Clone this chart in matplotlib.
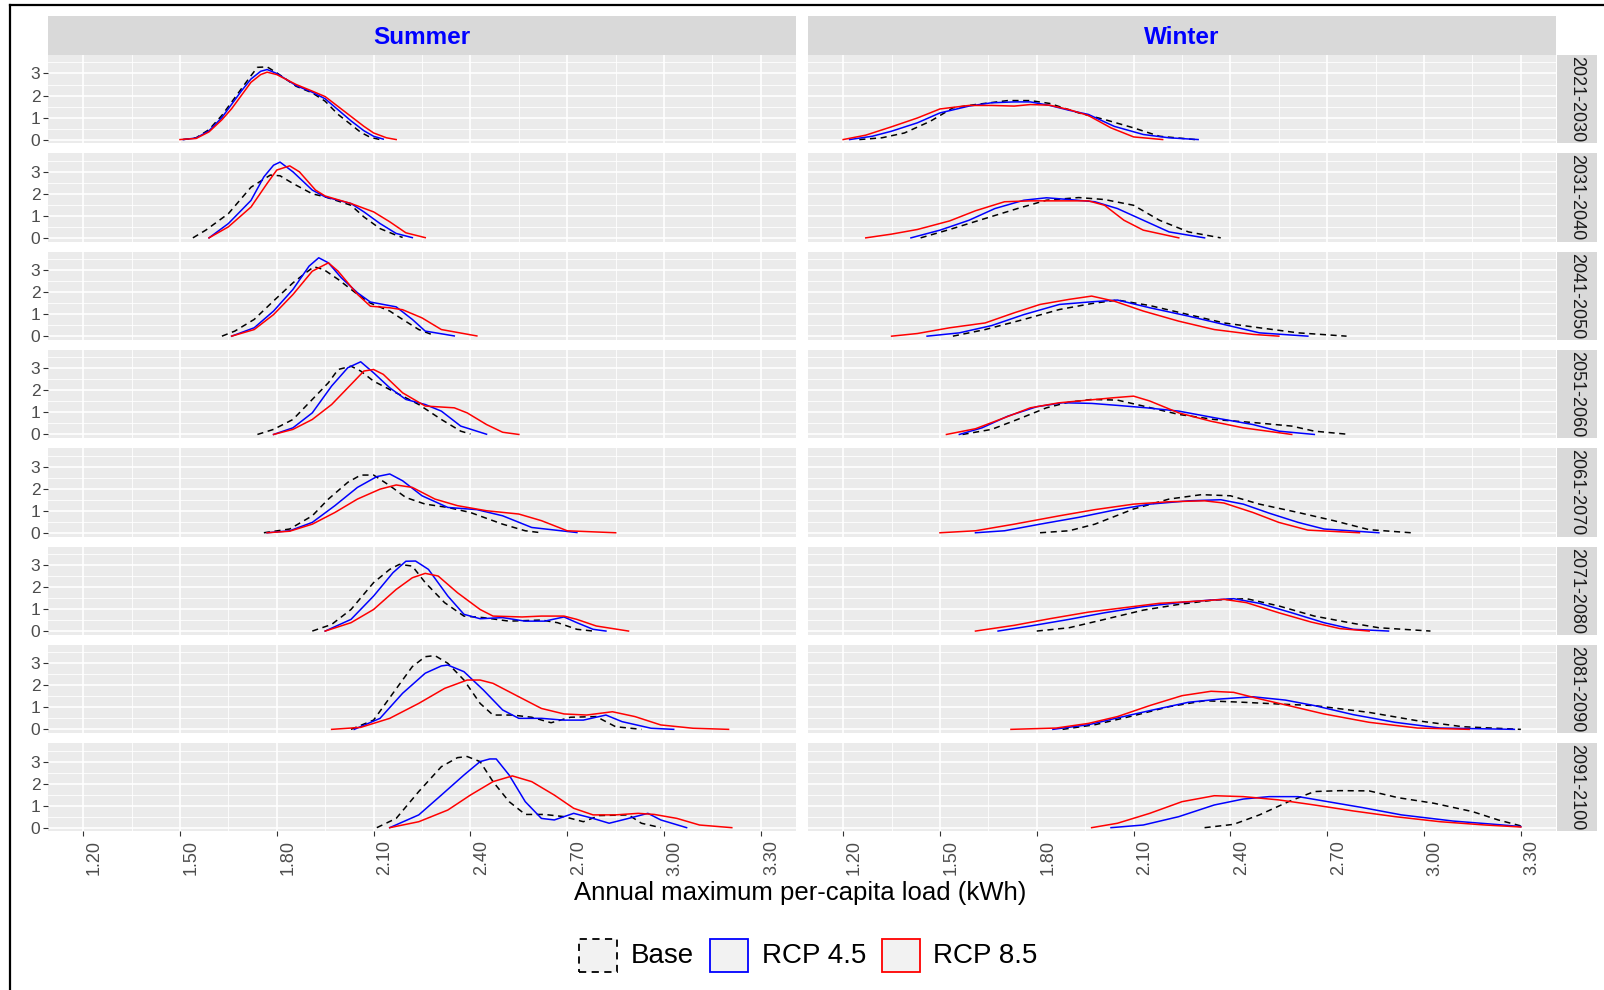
import matplotlib
matplotlib.use("Agg")
import matplotlib.pyplot as plt
import matplotlib.transforms as mtransforms
from matplotlib.patches import Rectangle
from matplotlib.lines import Line2D

plt.rcParams['font.family'] = ['Liberation Sans', 'DejaVu Sans']

# datos (x = carga, y = densidad)
seasons = ["Summer", "Winter"]
decades = ["2021-2030", "2031-2040", "2041-2050", "2051-2060",
           "2061-2070", "2071-2080", "2081-2090", "2091-2100"]
scenarios = ["Base", "RCP 4.5", "RCP 8.5"]

summer_base = [
    ([1.51, 1.55, 1.59, 1.63, 1.66, 1.69, 1.72, 1.74, 1.77, 1.80, 1.86, 1.91, 1.95, 1.99, 2.03, 2.06, 2.09, 2.12],
     [0, 0.08, 0.45, 1.1, 1.7, 2.3, 2.9, 3.28, 3.3, 3.03, 2.42, 2.12, 1.74, 1.14, 0.68, 0.33, 0.1, 0]),
    ([1.54, 1.58, 1.65, 1.72, 1.78, 1.81, 1.85, 1.91, 1.95, 2.03, 2.07, 2.12, 2.17, 2.19],
     [0, 0.35, 1.1, 2.3, 2.85, 2.82, 2.47, 2.0, 1.86, 1.48, 0.95, 0.42, 0.12, 0.02]),
    ([1.63, 1.67, 1.73, 1.79, 1.85, 1.89, 1.915, 1.945, 1.99, 2.05, 2.09, 2.15, 2.19, 2.24, 2.29],
     [0, 0.23, 0.76, 1.6, 2.42, 2.88, 3.15, 3.03, 2.58, 1.9, 1.5, 1.14, 0.76, 0.3, 0.02]),
    ([1.74, 1.79, 1.85, 1.91, 1.96, 1.99, 2.03, 2.06, 2.10, 2.17, 2.24, 2.31, 2.37, 2.40],
     [0, 0.23, 0.68, 1.59, 2.35, 2.95, 3.1, 2.88, 2.42, 1.89, 1.36, 0.68, 0.15, 0.02]),
    ([1.76, 1.84, 1.91, 1.96, 2.02, 2.06, 2.10, 2.15, 2.20, 2.26, 2.33, 2.40, 2.50, 2.57, 2.62],
     [0, 0.17, 0.77, 1.53, 2.29, 2.62, 2.62, 2.14, 1.6, 1.3, 1.15, 0.92, 0.39, 0.09, 0]),
    ([1.91, 1.97, 2.03, 2.10, 2.15, 2.18, 2.22, 2.26, 2.32, 2.38, 2.44, 2.52, 2.62, 2.67, 2.73, 2.78],
     [0, 0.3, 0.98, 2.2, 2.8, 3.03, 2.95, 2.2, 1.29, 0.68, 0.61, 0.45, 0.5, 0.38, 0.08, 0]),
    ([2.03, 2.10, 2.16, 2.22, 2.26, 2.29, 2.33, 2.38, 2.43, 2.47, 2.53, 2.59, 2.65, 2.71, 2.79, 2.85, 2.93],
     [0, 0.42, 1.64, 2.85, 3.3, 3.35, 3.0, 2.24, 1.18, 0.65, 0.65, 0.55, 0.3, 0.55, 0.58, 0.12, 0]),
    ([2.11, 2.17, 2.24, 2.31, 2.36, 2.39, 2.43, 2.47, 2.52, 2.57, 2.63, 2.69, 2.75, 2.80, 2.89, 2.93, 2.99],
     [0, 0.42, 1.64, 2.77, 3.18, 3.23, 3.0, 2.09, 1.18, 0.6, 0.6, 0.5, 0.27, 0.55, 0.58, 0.2, 0]),
]

summer_rcp45 = [
    ([1.51, 1.55, 1.59, 1.63, 1.66, 1.69, 1.72, 1.75, 1.77, 1.80, 1.86, 1.91, 1.95, 1.99, 2.03, 2.07, 2.10, 2.13],
     [0, 0.07, 0.4, 1.0, 1.6, 2.2, 2.75, 3.1, 3.18, 3.0, 2.45, 2.15, 1.85, 1.35, 0.85, 0.4, 0.15, 0.02]),
    ([1.59, 1.65, 1.72, 1.76, 1.79, 1.81, 1.85, 1.91, 1.95, 2.03, 2.07, 2.12, 2.17, 2.22],
     [0, 0.65, 1.7, 2.77, 3.3, 3.44, 3.0, 2.17, 1.86, 1.56, 1.18, 0.65, 0.2, 0.01]),
    ([1.66, 1.73, 1.79, 1.85, 1.90, 1.93, 1.96, 2.00, 2.05, 2.09, 2.17, 2.22, 2.26, 2.35],
     [0, 0.38, 1.14, 2.12, 3.18, 3.56, 3.33, 2.65, 1.97, 1.55, 1.33, 0.76, 0.23, 0.01]),
    ([1.79, 1.85, 1.91, 1.97, 2.02, 2.06, 2.10, 2.15, 2.20, 2.26, 2.31, 2.37, 2.45],
     [0, 0.3, 0.98, 2.2, 3.03, 3.3, 2.8, 2.12, 1.59, 1.36, 1.06, 0.38, 0.01]),
    ([1.77, 1.84, 1.91, 1.98, 2.05, 2.11, 2.15, 2.19, 2.25, 2.33, 2.42, 2.50, 2.59, 2.73],
     [0, 0.09, 0.47, 1.23, 2.06, 2.55, 2.67, 2.36, 1.68, 1.15, 1.05, 0.77, 0.24, 0.01]),
    ([1.95, 2.03, 2.10, 2.16, 2.20, 2.23, 2.27, 2.33, 2.38, 2.43, 2.50, 2.57, 2.63, 2.69, 2.73, 2.78, 2.82],
     [0, 0.53, 1.59, 2.65, 3.17, 3.18, 2.8, 1.59, 0.76, 0.56, 0.61, 0.45, 0.45, 0.64, 0.38, 0.08, 0]),
    ([2.04, 2.12, 2.19, 2.26, 2.31, 2.33, 2.38, 2.44, 2.50, 2.55, 2.62, 2.69, 2.75, 2.82, 2.87, 2.96, 3.03],
     [0, 0.5, 1.64, 2.55, 2.88, 2.92, 2.62, 1.79, 0.88, 0.5, 0.5, 0.42, 0.42, 0.65, 0.35, 0.05, 0]),
    ([2.15, 2.24, 2.31, 2.38, 2.43, 2.46, 2.48, 2.52, 2.57, 2.62, 2.66, 2.72, 2.78, 2.83, 2.89, 2.95, 2.99, 3.07],
     [0, 0.58, 1.48, 2.39, 3.0, 3.12, 3.12, 2.39, 1.18, 0.42, 0.35, 0.65, 0.42, 0.2, 0.42, 0.65, 0.35, 0]),
]

summer_rcp85 = [
    ([1.50, 1.55, 1.59, 1.63, 1.66, 1.69, 1.72, 1.75, 1.77, 1.80, 1.86, 1.91, 1.95, 1.99, 2.03, 2.07, 2.10, 2.14, 2.17],
     [0, 0.05, 0.35, 0.9, 1.4, 2.0, 2.6, 2.95, 3.06, 2.95, 2.5, 2.2, 1.95, 1.5, 1.05, 0.6, 0.3, 0.08, 0]),
    ([1.59, 1.65, 1.72, 1.77, 1.80, 1.84, 1.87, 1.92, 1.95, 2.03, 2.10, 2.15, 2.20, 2.26],
     [0, 0.5, 1.4, 2.47, 3.08, 3.27, 3.0, 2.17, 1.9, 1.56, 1.18, 0.73, 0.23, 0.01]),
    ([1.66, 1.73, 1.79, 1.85, 1.91, 1.96, 1.99, 2.05, 2.09, 2.15, 2.19, 2.25, 2.31, 2.42],
     [0, 0.3, 0.98, 1.89, 2.95, 3.33, 2.95, 1.9, 1.36, 1.29, 1.2, 0.83, 0.3, 0.01]),
    ([1.79, 1.85, 1.91, 1.97, 2.03, 2.07, 2.10, 2.13, 2.19, 2.26, 2.35, 2.39, 2.45, 2.50, 2.55],
     [0, 0.23, 0.68, 1.36, 2.27, 2.88, 2.95, 2.73, 1.89, 1.29, 1.21, 0.98, 0.45, 0.1, 0]),
    ([1.77, 1.84, 1.91, 1.98, 2.05, 2.12, 2.17, 2.22, 2.29, 2.36, 2.45, 2.55, 2.62, 2.70, 2.85],
     [0, 0.07, 0.39, 0.92, 1.53, 1.98, 2.17, 2.06, 1.53, 1.23, 1.0, 0.85, 0.55, 0.09, 0]),
    ([1.95, 2.03, 2.10, 2.17, 2.22, 2.26, 2.30, 2.36, 2.43, 2.47, 2.56, 2.62, 2.69, 2.73, 2.79, 2.89],
     [0, 0.38, 0.98, 1.89, 2.42, 2.62, 2.5, 1.74, 0.98, 0.68, 0.64, 0.68, 0.68, 0.53, 0.23, 0]),
    ([1.97, 2.06, 2.15, 2.24, 2.32, 2.39, 2.43, 2.47, 2.55, 2.62, 2.69, 2.76, 2.84, 2.91, 2.99, 3.09, 3.20],
     [0, 0.09, 0.5, 1.18, 1.86, 2.24, 2.24, 2.09, 1.48, 0.95, 0.7, 0.65, 0.8, 0.58, 0.2, 0.05, 0]),
    ([2.15, 2.24, 2.33, 2.40, 2.47, 2.53, 2.59, 2.66, 2.72, 2.78, 2.85, 2.92, 2.97, 3.04, 3.11, 3.21],
     [0, 0.27, 0.8, 1.48, 2.09, 2.35, 2.09, 1.48, 0.88, 0.58, 0.58, 0.65, 0.6, 0.42, 0.12, 0]),
]

winter_base = [
    ([1.25, 1.32, 1.39, 1.47, 1.54, 1.61, 1.71, 1.78, 1.84, 1.93, 2.01, 2.10, 2.18, 2.29],
     [0, 0.08, 0.3, 0.83, 1.44, 1.59, 1.77, 1.77, 1.64, 1.21, 0.91, 0.53, 0.15, 0]),
    ([1.44, 1.53, 1.64, 1.74, 1.83, 1.93, 2.01, 2.10, 2.18, 2.27, 2.37],
     [0, 0.38, 0.88, 1.33, 1.71, 1.83, 1.74, 1.48, 0.8, 0.27, 0]),
    ([1.54, 1.64, 1.76, 1.87, 1.97, 2.05, 2.15, 2.27, 2.38, 2.49, 2.61, 2.76],
     [0, 0.3, 0.76, 1.21, 1.48, 1.64, 1.39, 0.98, 0.6, 0.38, 0.15, 0]),
    ([1.57, 1.66, 1.74, 1.83, 1.90, 1.97, 2.05, 2.13, 2.24, 2.35, 2.48, 2.59, 2.66, 2.77],
     [0, 0.23, 0.68, 1.21, 1.47, 1.59, 1.56, 1.29, 0.91, 0.68, 0.53, 0.38, 0.15, 0]),
    ([1.81, 1.90, 1.98, 2.10, 2.21, 2.31, 2.40, 2.49, 2.61, 2.72, 2.83, 2.96],
     [0, 0.09, 0.39, 1.08, 1.53, 1.73, 1.68, 1.3, 0.92, 0.55, 0.14, 0]),
    ([1.80, 1.90, 2.01, 2.13, 2.24, 2.35, 2.45, 2.55, 2.66, 2.78, 2.86, 3.02],
     [0, 0.15, 0.53, 0.95, 1.21, 1.41, 1.47, 1.14, 0.68, 0.35, 0.15, 0]),
    ([1.88, 1.98, 2.10, 2.21, 2.32, 2.44, 2.55, 2.66, 2.83, 2.98, 3.12, 3.30],
     [0, 0.21, 0.62, 1.03, 1.3, 1.23, 1.15, 1.08, 0.77, 0.39, 0.12, 0]),
    ([2.32, 2.41, 2.49, 2.58, 2.66, 2.74, 2.83, 2.92, 3.03, 3.15, 3.23, 3.30],
     [0, 0.15, 0.58, 1.18, 1.64, 1.68, 1.67, 1.36, 1.11, 0.73, 0.35, 0.08]),
]

winter_rcp45 = [
    ([1.22, 1.29, 1.35, 1.43, 1.50, 1.59, 1.66, 1.73, 1.78, 1.84, 1.90, 1.96, 2.04, 2.13, 2.21, 2.30],
     [0, 0.15, 0.38, 0.76, 1.21, 1.52, 1.67, 1.71, 1.71, 1.55, 1.33, 1.14, 0.6, 0.23, 0.08, 0]),
    ([1.41, 1.50, 1.59, 1.67, 1.76, 1.83, 1.90, 1.98, 2.05, 2.13, 2.21, 2.32],
     [0, 0.35, 0.8, 1.33, 1.71, 1.82, 1.74, 1.64, 1.33, 0.8, 0.27, 0]),
    ([1.46, 1.56, 1.66, 1.76, 1.87, 1.97, 2.05, 2.15, 2.27, 2.38, 2.49, 2.64],
     [0, 0.15, 0.48, 0.98, 1.44, 1.56, 1.64, 1.29, 0.91, 0.53, 0.15, 0]),
    ([1.56, 1.63, 1.71, 1.80, 1.88, 1.97, 2.05, 2.14, 2.24, 2.35, 2.47, 2.55, 2.66],
     [0, 0.3, 0.83, 1.26, 1.44, 1.41, 1.32, 1.21, 1.06, 0.76, 0.45, 0.15, 0]),
    ([1.61, 1.70, 1.81, 1.93, 2.04, 2.15, 2.27, 2.37, 2.44, 2.52, 2.61, 2.69, 2.86],
     [0, 0.09, 0.39, 0.7, 1.03, 1.3, 1.45, 1.5, 1.3, 0.89, 0.47, 0.17, 0]),
    ([1.68, 1.78, 1.90, 2.01, 2.13, 2.24, 2.34, 2.41, 2.49, 2.59, 2.69, 2.78, 2.89],
     [0, 0.23, 0.53, 0.83, 1.11, 1.29, 1.41, 1.47, 1.26, 0.83, 0.38, 0.08, 0]),
    ([1.85, 1.96, 2.05, 2.15, 2.27, 2.37, 2.47, 2.57, 2.66, 2.78, 2.91, 3.05, 3.28],
     [0, 0.21, 0.52, 0.85, 1.23, 1.38, 1.48, 1.33, 1.08, 0.67, 0.32, 0.06, 0]),
    ([2.03, 2.13, 2.24, 2.35, 2.44, 2.52, 2.61, 2.69, 2.81, 2.93, 3.09, 3.22, 3.30],
     [0, 0.12, 0.5, 1.03, 1.3, 1.41, 1.41, 1.21, 0.91, 0.58, 0.3, 0.15, 0.05]),
]

winter_rcp85 = [
    ([1.20, 1.27, 1.35, 1.43, 1.50, 1.59, 1.66, 1.73, 1.78, 1.84, 1.90, 1.96, 2.03, 2.10, 2.19],
     [0, 0.2, 0.58, 0.98, 1.39, 1.55, 1.55, 1.52, 1.59, 1.56, 1.36, 1.09, 0.53, 0.12, 0]),
    ([1.27, 1.35, 1.43, 1.53, 1.61, 1.70, 1.78, 1.87, 1.96, 2.01, 2.07, 2.13, 2.24],
     [0, 0.17, 0.38, 0.77, 1.23, 1.64, 1.68, 1.68, 1.68, 1.48, 0.8, 0.35, 0]),
    ([1.35, 1.43, 1.53, 1.64, 1.73, 1.81, 1.90, 1.97, 2.04, 2.13, 2.24, 2.35, 2.47, 2.55],
     [0, 0.12, 0.38, 0.6, 1.06, 1.44, 1.67, 1.82, 1.59, 1.14, 0.68, 0.3, 0.08, 0]),
    ([1.52, 1.61, 1.70, 1.78, 1.87, 1.96, 2.04, 2.10, 2.15, 2.24, 2.34, 2.44, 2.59],
     [0, 0.26, 0.76, 1.21, 1.44, 1.56, 1.67, 1.74, 1.52, 0.98, 0.6, 0.3, 0]),
    ([1.50, 1.61, 1.73, 1.87, 1.98, 2.10, 2.21, 2.32, 2.38, 2.47, 2.55, 2.64, 2.80],
     [0, 0.09, 0.39, 0.77, 1.05, 1.3, 1.41, 1.45, 1.35, 0.92, 0.47, 0.12, 0]),
    ([1.61, 1.73, 1.84, 1.96, 2.07, 2.18, 2.30, 2.38, 2.45, 2.55, 2.65, 2.74, 2.83],
     [0, 0.26, 0.56, 0.86, 1.06, 1.26, 1.36, 1.44, 1.29, 0.83, 0.41, 0.11, 0]),
    ([1.72, 1.86, 1.96, 2.05, 2.15, 2.25, 2.34, 2.41, 2.48, 2.58, 2.69, 2.83, 2.98, 3.14],
     [0, 0.06, 0.27, 0.58, 1.08, 1.53, 1.73, 1.68, 1.42, 1.08, 0.7, 0.32, 0.06, 0]),
    ([1.97, 2.05, 2.15, 2.25, 2.35, 2.44, 2.55, 2.66, 2.78, 2.91, 3.05, 3.19, 3.30],
     [0, 0.2, 0.65, 1.18, 1.45, 1.41, 1.26, 1.03, 0.76, 0.5, 0.27, 0.12, 0.03]),
]

x_ticks = [1.20, 1.50, 1.80, 2.10, 2.40, 2.70, 3.00, 3.30]
x_minor = [1.35, 1.65, 1.95, 2.25, 2.55, 2.85, 3.15]
y_ticks = [0, 1, 2, 3]
y_minor = [0.5, 1.5, 2.5, 3.5]

datos = {"Summer": [summer_base, summer_rcp45, summer_rcp85],
         "Winter": [winter_base, winter_rcp45, winter_rcp85]}
colores = ["black", "blue", "red"]
estilos = [(0, (4, 3)), "solid", "solid"]

W, H = 1604, 990
fig = plt.figure(figsize=(W / 100, H / 100), dpi=100)

def caja(x0, y0, w, h):
    # convierte pixeles (origen arriba a la izquierda) a fraccion de figura
    return [x0 / W, 1 - (y0 + h) / H, w / W, h / H]

col_x = [48, 808]
col_w = 748
top0 = 55
row_h = 88.3
gap = 10.0
gris_txt = "#4D4D4D"

offset = mtransforms.ScaledTranslation(11 / 100, 0, fig.dpi_scale_trans)

for c, temporada in enumerate(seasons):
    # franja superior
    sa = fig.add_axes(caja(col_x[c], 16, col_w, 39))
    sa.set_facecolor("#D9D9D9")
    sa.set_xticks([]); sa.set_yticks([])
    for s in sa.spines.values():
        s.set_visible(False)
    sa.text(0.5, 0.45, temporada, ha="center", va="center", color="blue",
            fontsize=17.5, fontweight="bold", transform=sa.transAxes)

    for r, decada in enumerate(decades):
        y0 = top0 + r * (row_h + gap)
        ax = fig.add_axes(caja(col_x[c], y0, col_w, row_h))
        ax.set_facecolor("#EBEBEB")
        for s in ax.spines.values():
            s.set_visible(False)
        ax.set_xlim(1.091, 3.409)
        ax.set_ylim(-0.17, 3.84)
        ax.set_xticks(x_ticks)
        ax.set_xticks(x_minor, minor=True)
        ax.set_yticks(y_ticks)
        ax.set_yticks(y_minor, minor=True)
        ax.grid(which="major", color="white", lw=1.2)
        ax.grid(which="minor", color="white", lw=0.6)
        ax.set_axisbelow(True)
        ax.tick_params(which="minor", length=0)
        ax.tick_params(which="major", color="#333333", width=0.8, labelcolor=gris_txt)

        if c == 0:
            ax.set_yticklabels([str(v) for v in y_ticks], fontsize=12.5)
            ax.tick_params(axis="y", length=3.5, pad=2)
        else:
            ax.tick_params(axis="y", length=0, labelleft=False)
        if r == len(decades) - 1:
            ax.set_xticklabels(["%.2f" % v for v in x_ticks], rotation=90, fontsize=13,
                               ha="center", va="top")
            ax.tick_params(axis="x", length=3.5, pad=3)
            for lab in ax.get_xticklabels():
                lab.set_transform(lab.get_transform() + offset)
        else:
            ax.tick_params(axis="x", length=0, labelbottom=False)

        for k in range(3):
            xs, ys = datos[temporada][k][r]
            ax.plot(xs, ys, color=colores[k], linestyle=estilos[k], lw=1.1)

        if c == 1:
            ra = fig.add_axes(caja(1557, y0, 40, row_h))
            ra.set_facecolor("#D9D9D9")
            ra.set_xticks([]); ra.set_yticks([])
            for s in ra.spines.values():
                s.set_visible(False)
            ra.text(0.5, 0.5, decada, rotation=270, ha="center", va="center",
                    color="#1A1A1A", fontsize=13, transform=ra.transAxes)

# titulo del eje x
fig.text(800 / W, 1 - 893 / H, "Annual maximum per-capita load (kWh)",
         ha="center", va="center", fontsize=18.5, color="black")

# leyenda
caja_x = [579, 710, 882]
texto_x = [631, 762, 933]
for k, nombre in enumerate(scenarios):
    rect = Rectangle((caja_x[k] / W, 1 - 972 / H), 38 / W, 33 / H,
                     transform=fig.transFigure, facecolor="#F2F2F2",
                     edgecolor=colores[k], linestyle=estilos[k] if k == 0 else "solid",
                     lw=1.3)
    fig.patches.append(rect)
    fig.text(texto_x[k] / W, 1 - 956 / H, nombre, ha="left", va="center",
             fontsize=20, color="black")

# borde exterior
fig.add_artist(Line2D([10 / W, 10 / W], [0, 1 - 5 / H], transform=fig.transFigure,
                      color="black", lw=1.6))
fig.add_artist(Line2D([10 / W, 1], [1 - 5 / H, 1 - 5 / H], transform=fig.transFigure,
                      color="black", lw=1.6))

fig.savefig("out.png", dpi=100)
